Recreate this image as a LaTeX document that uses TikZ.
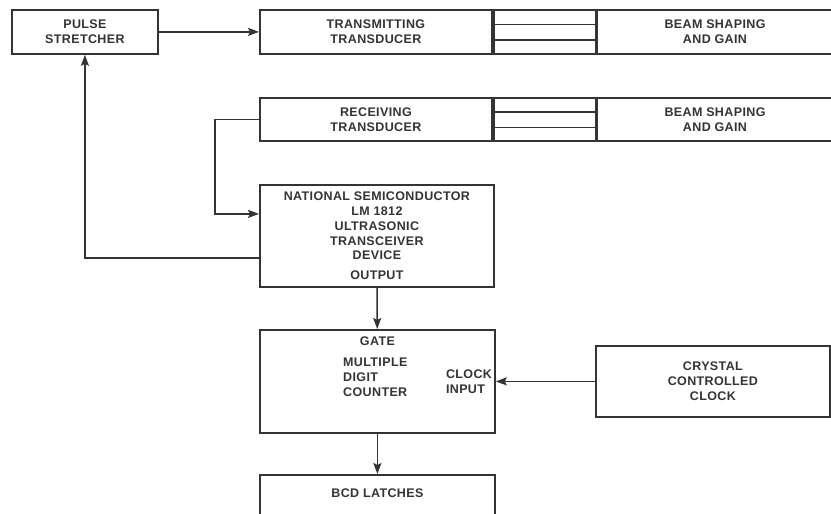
\documentclass[tikz,border=0pt]{standalone}
\usepackage{fontspec}
\setmainfont[LetterSpace=3]{Liberation Sans}
\usepackage{tikz}
\usetikzlibrary{arrows.meta,positioning,calc}
\definecolor{inkgray}{RGB}{52,52,52}
\tikzset{
  blkbox/.style={draw=inkgray, line width=1.8pt, anchor=north west,
                 minimum width=#1, inner sep=0pt, align=center,
                 font=\fontsize{12.5}{14.8}\selectfont\bfseries, text=inkgray},
  blkbox/.default=234pt,
  lbl/.style   ={inner sep=0pt, font=\fontsize{12.5}{14.8}\selectfont\bfseries,
                 text=inkgray},
  arr/.style   ={-{Stealth[length=11pt,width=8pt,inset=2pt]}, line width=1.6pt,
                 draw=inkgray},
  ln/.style    ={line width=1.6pt, draw=inkgray},
}
\begin{document}
\begin{tikzpicture}[x=1pt,y=-1pt]
  \clip (0,0) rectangle (831,514);
  \fill[white] (0,0) rectangle (831,514);

  % transmit chain
  \node[blkbox=146pt, minimum height=44pt] (ps) at (11,9) {PULSE\\STRETCHER};
  \node[blkbox=232pt, minimum height=44pt] (tx) at (259,9)
        {TRANSMITTING\\TRANSDUCER};
  \node[blkbox=102pt, minimum height=44pt] (txmid) at (tx.north east) {};
  \node[blkbox=235pt, minimum height=44pt] (txbeam) at (txmid.north east)
        {BEAM SHAPING\\AND GAIN};

  % receive chain
  \node[blkbox=232pt, minimum height=43pt] (rx) at (259,97)
        {RECEIVING\\TRANSDUCER};
  \node[blkbox=102pt, minimum height=43pt] (rxmid) at (rx.north east) {};
  \node[blkbox=235pt, minimum height=43pt] (rxbeam) at (rxmid.north east)
        {BEAM SHAPING\\AND GAIN};

  \foreach \m in {txmid,rxmid}{
    \foreach \f in {0.34,0.68}{
      \draw[ln] ($(\m.north west)!\f!(\m.south west)$)
             -- ($(\m.north east)!\f!(\m.south east)$);
    }
  }

  % LM 1812
  \node[blkbox, minimum height=102pt] (lm) at (259,184)
        {NATIONAL SEMICONDUCTOR\\LM 1812\\ULTRASONIC\\TRANSCEIVER\\DEVICE\\[5pt]OUTPUT};

  % counter
  \node[blkbox=235pt, minimum height=103pt] (cnt) at (259,329) {};
  \node[lbl] (gate) at ([yshift=-12pt]cnt.north) {GATE};
  \node[lbl, anchor=west, align=left] (cnttxt) at ([xshift=84pt,yshift=4pt]cnt.west)
        {MULTIPLE\\DIGIT\\COUNTER};
  \node[lbl, anchor=west, align=left] (clkin) at ([xshift=-50pt]cnt.east)
        {CLOCK\\INPUT};

  \node[blkbox, minimum height=71pt] (xtal) at (595,345)
        {CRYSTAL\\CONTROLLED\\CLOCK};

  \node[blkbox=235pt, minimum height=80pt] (bcd) at (259,474) {};
  \node[lbl] (bcdtxt) at ([yshift=-19pt]bcd.north) {BCD LATCHES};

  % connectors
  \draw[arr] (ps) -- (tx);
  \draw[arr] (rx.west) -- ++(-44,0) |- ([yshift=22pt]lm.west);
  \draw[arr] ([yshift=-22pt]lm.west) -| (ps.south);
  \draw[arr] (lm) -- (cnt);
  \draw[arr] (xtal) -- (cnt);
  \draw[arr] (cnt) -- (bcd);
\end{tikzpicture}
\end{document}
